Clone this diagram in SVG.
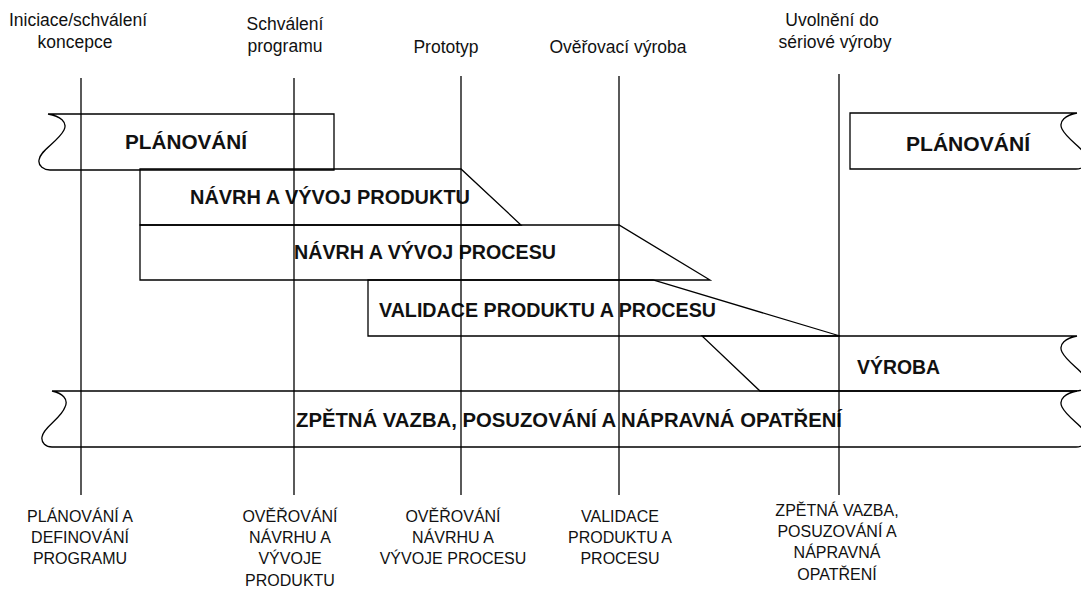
<svg xmlns="http://www.w3.org/2000/svg" width="1081" height="596" viewBox="0 0 1081 596">
<style>
.bar{fill:none;stroke:#000;stroke-width:1.3;stroke-linejoin:miter}
.vl{stroke:#000;stroke-width:1.3;fill:none}
.bl{font-family:"Liberation Sans",Arial,sans-serif;font-weight:bold;font-size:20px;fill:#111}
.tl{font-family:"Liberation Sans",Arial,sans-serif;font-size:17.5px;fill:#111;text-anchor:middle}
.btl{font-family:"Liberation Sans",Arial,sans-serif;font-size:16px;fill:#111;text-anchor:middle}
</style>
<rect width="1081" height="596" fill="#fff"/>

<g id="planovani-left">
<path class="bar" d="M48,114 L334,114 L334,170 L50,170 C44,170 38,166 39,160 C40,150 58,142 64,130 C68,122 60,116 48,114 Z"/>
<text class="bl" x="125" y="149" textLength="122" lengthAdjust="spacingAndGlyphs">PLÁNOVÁNÍ</text>
</g>

<g id="planovani-right">
<path class="bar" d="M1077,113 L850,113 L850,169 L1076,169 C1082,169 1088,165 1087,159 C1086,149 1068,141 1062,129 C1058,121 1066,115 1077,113"/>
<text class="bl" x="906" y="151" textLength="124" lengthAdjust="spacingAndGlyphs">PLÁNOVÁNÍ</text>
</g>

<g id="navrh-produktu">
<path class="bar" d="M140,169 L461,169 L521,225 L140,225 Z"/>
<text class="bl" x="190" y="204" textLength="280" lengthAdjust="spacingAndGlyphs">NÁVRH A VÝVOJ PRODUKTU</text>
</g>

<g id="navrh-procesu">
<path class="bar" d="M140,225 L619,225 L710,280 L140,280 Z"/>
<text class="bl" x="294" y="259" textLength="262" lengthAdjust="spacingAndGlyphs">NÁVRH A VÝVOJ PROCESU</text>
</g>

<g id="validace">
<path class="bar" d="M368,280 L653,280 L840,336 L368,336 Z"/>
<text class="bl" x="379" y="317" textLength="337" lengthAdjust="spacingAndGlyphs">VALIDACE PRODUKTU A PROCESU</text>
</g>

<g id="vyroba">
<path class="bar" d="M702,336 L1077,336 C1066,338 1058,344 1062,352 C1068,364 1086,372 1087,382 C1088,388 1082,391 1076,391 L760,391 Z"/>
<text class="bl" x="857" y="374" textLength="83" lengthAdjust="spacingAndGlyphs">VÝROBA</text>
</g>

<g id="zpetna-vazba">
<path class="bar" d="M52,391 L1077,391 C1066,393 1058,399 1062,407 C1068,419 1086,427 1087,437 C1088,443 1082,447 1076,447 L52,447 C46,447 41,443 42,437 C43,427 61,419 65,407 C69,399 62,393 52,391 Z"/>
<text class="bl" x="296" y="427" textLength="546" lengthAdjust="spacingAndGlyphs">ZPĚTNÁ VAZBA, POSUZOVÁNÍ A NÁPRAVNÁ OPATŘENÍ</text>
</g>

<g id="connectors">
<line class="vl" x1="81" y1="78" x2="81" y2="495"/>
<line class="vl" x1="294" y1="78" x2="294" y2="495"/>
<line class="vl" x1="461" y1="76" x2="461" y2="495"/>
<line class="vl" x1="619" y1="76" x2="619" y2="495"/>
<line class="vl" x1="839" y1="74" x2="839" y2="495"/>
</g>

<g id="milestones">
<text class="tl" x="78" y="26">Iniciace/schválení</text>
<text class="tl" x="75" y="48">koncepce</text>
<text class="tl" x="285" y="30">Schválení</text>
<text class="tl" x="285" y="52">programu</text>
<text class="tl" x="446" y="53">Prototyp</text>
<text class="tl" x="618" y="53">Ověřovací výroba</text>
<text class="tl" x="832" y="26">Uvolnění do</text>
<text class="tl" x="835" y="48">sériové výroby</text>
</g>

<g id="phases">
<text class="btl" x="80" y="522">PLÁNOVÁNÍ A</text>
<text class="btl" x="80" y="543">DEFINOVÁNÍ</text>
<text class="btl" x="80" y="564">PROGRAMU</text>

<text class="btl" x="290" y="522">OVĚŘOVÁNÍ</text>
<text class="btl" x="290" y="543">NÁVRHU A</text>
<text class="btl" x="290" y="564">VÝVOJE</text>
<text class="btl" x="290" y="586">PRODUKTU</text>

<text class="btl" x="453" y="522">OVĚŘOVÁNÍ</text>
<text class="btl" x="453" y="543">NÁVRHU A</text>
<text class="btl" x="453" y="564">VÝVOJE PROCESU</text>

<text class="btl" x="620" y="522">VALIDACE</text>
<text class="btl" x="620" y="543">PRODUKTU A</text>
<text class="btl" x="620" y="564">PROCESU</text>

<text class="btl" x="837" y="516">ZPĚTNÁ VAZBA,</text>
<text class="btl" x="837" y="537">POSUZOVÁNÍ A</text>
<text class="btl" x="837" y="558">NÁPRAVNÁ</text>
<text class="btl" x="837" y="580">OPATŘENÍ</text>
</g>
</svg>
